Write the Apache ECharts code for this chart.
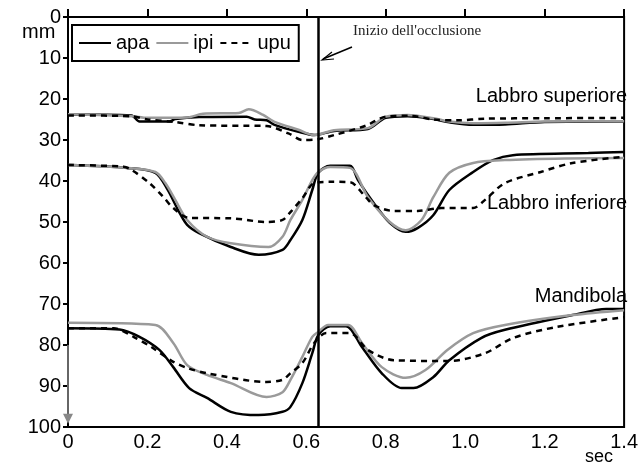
<!DOCTYPE html>
<html>
<head>
<meta charset="utf-8">
<script src="https://cdn.jsdelivr.net/npm/echarts@6/dist/echarts.min.js"></script>
<style>
  html, body { margin: 0; padding: 0; background: #fff; }
  #chart { width: 641px; height: 469px; }
</style>
</head>
<body>
<div id="chart"></div>
<script>
// tempo (sec) / spostamento (mm)
var supApa = [[0,23.8],[0.16,24],[0.18,25.5],[0.255,25.5],[0.27,24.9],[0.33,24.4],[0.45,24.3],[0.47,25],[0.5,25.2],[0.52,26.3],[0.58,28],[0.62,28.8],[0.67,27.8],[0.755,27.3],[0.8,24.6],[0.855,24.2],[0.92,24.9],[0.96,25.7],[1.02,26.3],[1.1,26.2],[1.2,25.6],[1.4,25.5]];
var supIpi = [[0,23.7],[0.16,24.2],[0.2,24.6],[0.3,24.5],[0.34,23.6],[0.43,23.4],[0.455,22.5],[0.49,23.8],[0.52,25.6],[0.58,27.5],[0.62,28.8],[0.67,27.6],[0.755,27.1],[0.8,24.3],[0.855,23.9],[0.92,24.7],[0.96,25.5],[1.02,25.9],[1.1,25.8],[1.2,25.5],[1.4,25.4]];
var supUpu = [[0,24],[0.16,24.2],[0.2,25],[0.27,25.6],[0.33,26.4],[0.5,26.6],[0.555,28.4],[0.59,30],[0.63,29.8],[0.67,28.8],[0.75,26.5],[0.8,24.3],[0.86,24.1],[0.92,25],[0.98,25.2],[1.05,24.8],[1.2,24.7],[1.4,24.6]];

var infApa = [[0,36.1],[0.15,36.8],[0.22,38],[0.25,42],[0.28,47.6],[0.3,50.7],[0.33,52.7],[0.41,56.1],[0.48,58],[0.54,56.8],[0.56,54.4],[0.59,49.5],[0.615,42.2],[0.63,38],[0.66,36.3],[0.71,36.3],[0.73,39.8],[0.77,45.4],[0.81,50.2],[0.85,52.4],[0.88,51.5],[0.92,48.3],[0.96,42.2],[1.02,37.8],[1.07,34.9],[1.12,33.7],[1.31,33.2],[1.4,32.9]];
var infIpi = [[0,36.1],[0.15,36.8],[0.22,37.8],[0.245,40.5],[0.27,44.6],[0.3,49.5],[0.35,53.6],[0.41,55.2],[0.505,56.1],[0.54,53.6],[0.56,49.5],[0.59,44.6],[0.615,39.8],[0.63,37.8],[0.66,36.6],[0.71,36.8],[0.755,43.9],[0.81,50],[0.85,52],[0.89,49.5],[0.92,43.9],[0.96,38],[1.02,35.6],[1.1,34.9],[1.25,34.5],[1.4,34.4]];
var infUpu = [[0,36.1],[0.14,36.5],[0.16,37.3],[0.205,40.5],[0.24,43.9],[0.265,46.6],[0.305,49],[0.41,49.1],[0.5,50],[0.54,49.5],[0.56,47.6],[0.59,44.2],[0.62,40.5],[0.66,40.2],[0.71,40.3],[0.745,43.4],[0.77,45.9],[0.82,47.3],[0.88,47.3],[0.94,46.6],[1.02,46.6],[1.05,44.6],[1.1,40.5],[1.19,37.8],[1.27,35.6],[1.4,34.1]];

var manApa = [[0,75.9],[0.13,76.2],[0.18,78],[0.23,81.2],[0.265,85.4],[0.305,90.5],[0.35,92.9],[0.41,96.3],[0.48,97.1],[0.54,96.3],[0.56,95.1],[0.59,89.3],[0.615,82],[0.63,77.6],[0.66,75.4],[0.7,75.4],[0.74,80.5],[0.79,86.9],[0.84,90.5],[0.87,90.5],[0.92,87.8],[0.96,83.7],[1.04,78.3],[1.1,76.3],[1.27,72.7],[1.355,71.2],[1.4,71.2]];
var manIpi = [[0,74.6],[0.22,75.1],[0.265,79.5],[0.3,84.9],[0.35,87.3],[0.41,89.3],[0.5,92.7],[0.54,91.5],[0.56,88.5],[0.59,82.9],[0.615,78],[0.63,76.8],[0.655,75.1],[0.705,75.1],[0.74,79.5],[0.79,85.4],[0.85,88],[0.9,86.1],[0.955,81.2],[1.02,77.1],[1.1,75.1],[1.27,72.7],[1.4,71.5]];
var manUpu = [[0,75.9],[0.115,75.9],[0.165,78],[0.21,80.5],[0.265,84.1],[0.3,85.6],[0.35,86.9],[0.5,89],[0.54,88.5],[0.56,86.9],[0.59,84.4],[0.62,79.5],[0.65,77.1],[0.71,77.1],[0.755,81.2],[0.82,83.7],[0.96,83.9],[1.05,82],[1.12,78.3],[1.23,75.6],[1.4,73.2]];

var xTicks = ['0', '0.2', '0.4', '0.6', '0.8', '1.0', '1.2', '1.4'];
var occlusione = 0.63;
var gruppi = ['Labbro superiore', 'Labbro inferiore', 'Mandibola'];

var font = '"Liberation Sans Narrow", "Liberation Sans", Arial, sans-serif';

function serie(nome, dati) {
    var s = {
        name: nome,
        type: 'line',
        data: dati,
        symbol: 'none',
        showSymbol: false,
        smooth: 0.3,
        silent: true,
        lineStyle: { color: '#000', width: 2.5 },
        itemStyle: { color: '#000' }
    };
    if (nome == 'ipi') {
        s.lineStyle = { color: '#9a9a9a', width: 2.5 };
        s.itemStyle = { color: '#9a9a9a' };
    }
    if (nome == 'upu') {
        s.lineStyle = { color: '#000', width: 2.5, type: [6, 5] };
    }
    return s;
}

var series = [
    serie('apa', supApa), serie('ipi', supIpi), serie('upu', supUpu),
    serie('apa', infApa), serie('ipi', infIpi), serie('upu', infUpu),
    serie('apa', manApa), serie('ipi', manIpi), serie('upu', manUpu)
];

// linea verticale: inizio dell'occlusione
series[0].markLine = {
    silent: true,
    symbol: ['none', 'none'],
    label: { show: false },
    lineStyle: { color: '#000', width: 2.5, type: 'solid' },
    data: [{ xAxis: occlusione }]
};
// freccia grigia sull'asse y
series[1].markLine = {
    silent: true,
    symbol: ['none', 'triangle'],
    symbolSize: 10,
    label: { show: false },
    lineStyle: { color: '#888', width: 1.5, type: 'solid' },
    data: [[{ coord: [0, 80] }, { coord: [0, 98] }]]
};

var chart = echarts.init(document.getElementById('chart'));
var option = {
    animation: false,
    backgroundColor: '#fff',
    grid: {
        left: 68, right: 11, top: 17, bottom: 42,
        show: true, borderColor: '#000', borderWidth: 2
    },
    legend: {
        left: 72, top: 25,
        padding: [8, 8, 8, 6],
        borderColor: '#000', borderWidth: 2,
        itemWidth: 32, itemHeight: 14, itemGap: 6,
        itemStyle: { opacity: 0 },
        selectedMode: false,
        textStyle: { fontFamily: font, fontSize: 20, color: '#000' },
        data: ['apa', 'ipi', 'upu']
    },
    xAxis: {
        type: 'value', min: 0, max: 1.4, interval: 0.2,
        axisLine: { lineStyle: { color: '#000', width: 2 } },
        axisTick: { inside: true, length: 8, lineStyle: { color: '#000', width: 2 } },
        splitLine: { show: false },
        axisLabel: {
            margin: 5, color: '#000', fontFamily: font, fontSize: 20,
            formatter: function (v) { return xTicks[Math.round(v / 0.2)]; }
        }
    },
    yAxis: {
        type: 'value', inverse: true, min: 0, max: 100, interval: 10,
        axisLine: { lineStyle: { color: '#000', width: 2 } },
        axisTick: { length: 5, lineStyle: { color: '#000', width: 2 } },
        splitLine: { show: false },
        axisLabel: { margin: 7, color: '#000', fontFamily: font, fontSize: 20 }
    },
    graphic: [
        { type: 'text', left: 22, top: 22, style: { text: 'mm', font: '20px ' + font, fill: '#000' } },
        { type: 'text', left: 585, top: 448, style: { text: 'sec', font: '18px ' + font, fill: '#000' } },
        { type: 'text', left: 353, top: 24, style: { text: "Inizio dell'occlusione", font: '15px "Liberation Serif", serif', fill: '#222' } },
        { type: 'line', shape: { x1: 352, y1: 47, x2: 323, y2: 59 }, style: { stroke: '#000', lineWidth: 1.5 } },
        { type: 'polyline', shape: { points: [[332, 52], [322, 60], [334, 59]] }, style: { stroke: '#000', lineWidth: 1.2, fill: null } },
        { type: 'text', right: 14, top: 86, style: { text: gruppi[0], font: '20px ' + font, fill: '#000' } },
        { type: 'text', right: 14, top: 193, style: { text: gruppi[1], font: '20px ' + font, fill: '#000' } },
        { type: 'text', right: 14, top: 286, style: { text: gruppi[2], font: '20px ' + font, fill: '#000' } }
    ],
    series: series
};
chart.setOption(option);
</script>
</body>
</html>
